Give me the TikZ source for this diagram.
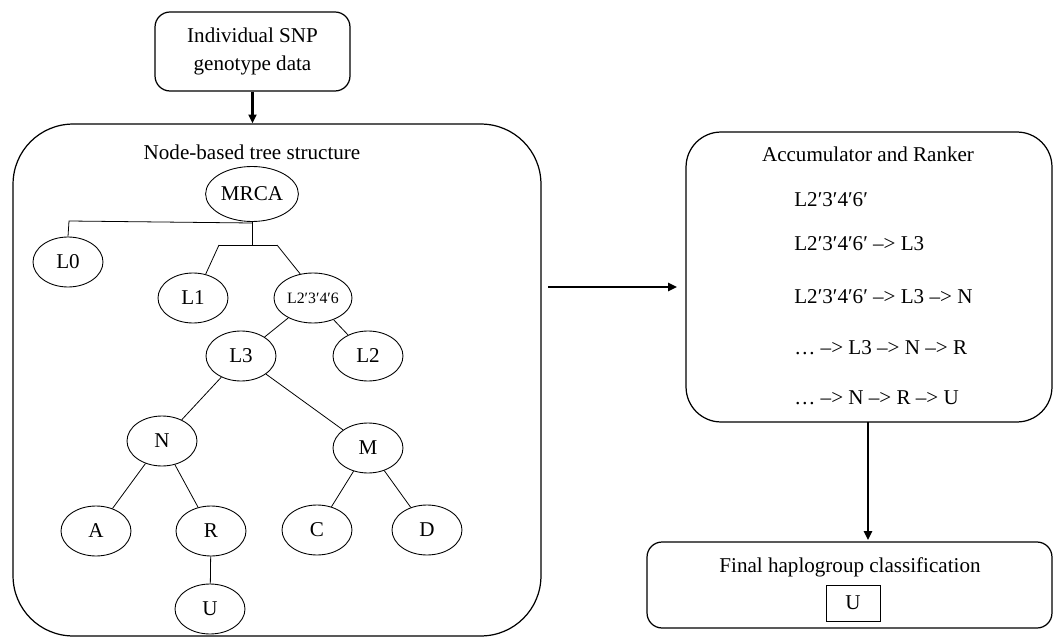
\documentclass[tikz,border=0pt]{standalone}
\usepackage{fontspec}
\setmainfont{Liberation Serif}
\usetikzlibrary{shapes.geometric,arrows.meta,positioning}

\tikzset{
	hap/.style={ellipse, draw, line width=0.5pt, minimum width=1.4cm, minimum height=1cm, inner sep=1pt},
	panel/.style={draw, line width=0.7pt, rounded corners=#1},
	flow/.style={line width=1.2pt, -{Triangle[length=5pt,width=4.5pt]}},
	branch/.style={line width=0.45pt},
	stepline/.style={anchor=west, inner sep=0pt}
}

\begin{document}
\begin{tikzpicture}[x=0.02cm, y=-0.02cm, font=\fontsize{12}{15.5}\selectfont]
	\useasboundingbox (0,0) rectangle (1057,638);

	%% INPUT
	\node[panel=0.3cm, minimum width=3.9cm, minimum height=1.58cm, align=center](snp) at (252.5,51.5){Individual SNP\\genotype data};

	%% TREE panel
	\node[panel=1.2cm, minimum width=10.56cm, minimum height=10.24cm](tree_box) at (277,380){};
	\node(tree_title) at (252,152){Node-based tree structure};
	\draw[flow] (snp.south) -- (tree_box.north -| snp.south);

	\node[hap, minimum height=1.1cm](mrca) at (252,194){MRCA};
	\node[hap](L0) at (68,262){L0};
	\node[hap](L1) at (193,298){L1};
	\node[hap, font=\fontsize{9}{10}\selectfont](L2346) at (313,298){L2′3′4′6};
	\node[hap](L3) at (241,356){L3};
	\node[hap](L2) at (368,356){L2};
	\node[hap](N) at (162,441){N};
	\node[hap](M) at (368,448){M};
	\node[hap](A) at (96,531){A};
	\node[hap](R) at (211,531){R};
	\node[hap](C) at (317,530){C};
	\node[hap](D) at (427,530){D};
	\node[hap](U) at (210,609){U};

	% root forks
	\coordinate (fork_root) at (252,223);
	\coordinate (fork_L0) at (69,221);
	\coordinate (fork_mid) at (252,245);
	\coordinate (fork_left) at (219,245);
	\coordinate (fork_right) at (277,245);

	\draw[branch] (mrca.south) -- (fork_mid);
	\draw[branch] (fork_root) -- (fork_L0) -- (L0.north);
	\draw[branch] (fork_left) -- (fork_right);
	\draw[branch] (fork_left) -- (L1.62);
	\draw[branch] (fork_right) -- (L2346.118);

	\draw[branch] (L2346) -- (L3);
	\draw[branch] (L2346) -- (L2);
	\draw[branch] (L3) -- (N);
	\draw[branch] (L3) -- (M);
	\draw[branch] (N) -- (A);
	\draw[branch] (N) -- (R);
	\draw[branch] (M) -- (C);
	\draw[branch] (M) -- (D);
	\draw[branch] (R) -- (U);

	%% ACCUMULATOR
	\node[panel=0.7cm, minimum width=7.32cm, minimum height=5.8cm](acc) at (869,277){};
	\node(acc_title) at (868,154){Accumulator and Ranker};
	\node[stepline](path_a) at (794,200){L2′3′4′6′};
	\node[stepline](path_b) at (794,244){L2′3′4′6′ –> L3};
	\node[stepline](path_c) at (794,297){L2′3′4′6′ –> L3 –> N};
	\node[stepline](path_d) at (794,348){… –> L3 –> N –> R};
	\node[stepline](path_e) at (794,398){… –> N –> R –> U};

	\coordinate (tree_out) at (548,287);
	\coordinate (acc_in) at (677,287);
	\draw[flow] (tree_out) -- (acc_in);

	%% RESULT
	\node[panel=0.3cm, minimum width=8.1cm, minimum height=1.72cm](final) at (849.5,585){};
	\node(final_title) at (850,567){Final haplogroup classification};
	\node[draw, line width=0.5pt, minimum width=1.08cm, minimum height=0.72cm](result) at (853,603){U};
	\coordinate (acc_out) at (868,422);
	\coordinate (final_in) at (868,540);
	\draw[flow] (acc_out) -- (final_in);

\end{tikzpicture}
\end{document}
